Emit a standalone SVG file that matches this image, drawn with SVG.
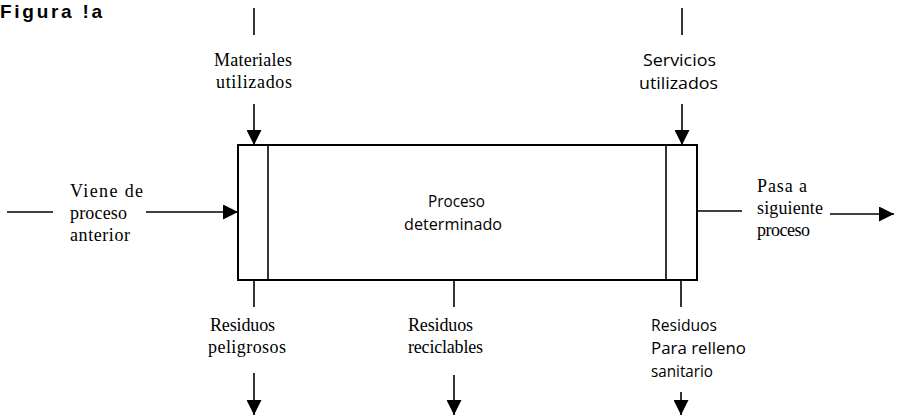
<svg xmlns="http://www.w3.org/2000/svg" width="898" height="417" viewBox="0 0 898 417">
<defs>
<marker id="ah" viewBox="0 0 10 10" refX="10" refY="5" markerWidth="15" markerHeight="15" markerUnits="userSpaceOnUse" orient="auto">
<path d="M0,0 L10,5 L0,10 Z" fill="#000"/>
</marker>
<style>
.s{font-family:"Liberation Serif","Times New Roman",serif;font-size:18px;fill:#000}
.n{font-family:"Open Sans","Noto Sans",sans-serif;font-size:16px;fill:#000}
.ln{stroke:#000;stroke-width:1.6;fill:none}
.ar{stroke:#000;stroke-width:1.6;fill:none;marker-end:url(#ah)}
.bx{stroke:#000;stroke-width:2;fill:#fff}
</style>
</defs>
<rect width="898" height="417" fill="#fff"/>
<text x="0" y="18" font-family="Liberation Sans, Arial, sans-serif" font-weight="bold" font-size="19" textLength="102" lengthAdjust="spacing">Figura !a</text>

<g id="proceso">
<rect class="bx" x="238" y="145" width="459" height="135"/>
<line class="ln" x1="268" y1="145" x2="268" y2="280"/>
<line class="ln" x1="666" y1="145" x2="666" y2="280"/>
<text class="n" x="428" y="207" textLength="57" lengthAdjust="spacingAndGlyphs">Proceso</text>
<text class="n" x="404" y="230" textLength="98" lengthAdjust="spacingAndGlyphs">determinado</text>
</g>

<g id="materiales">
<text class="s" x="214" y="66" textLength="78" lengthAdjust="spacing">Materiales</text>
<text class="s" x="216" y="88" textLength="76" lengthAdjust="spacing">utilizados</text>
</g>
<g id="servicios">
<text class="n" x="643" y="66" textLength="73" lengthAdjust="spacingAndGlyphs">Servicios</text>
<text class="n" x="639" y="89" textLength="79" lengthAdjust="spacingAndGlyphs">utilizados</text>
</g>
<g id="viene">
<text class="s" x="70" y="197" textLength="73" lengthAdjust="spacing">Viene de</text>
<text class="s" x="70" y="219" textLength="57" lengthAdjust="spacing">proceso</text>
<text class="s" x="70" y="241" textLength="60" lengthAdjust="spacing">anterior</text>
</g>
<g id="pasa">
<text class="s" x="757" y="192" textLength="50" lengthAdjust="spacing">Pasa a</text>
<text class="s" x="757" y="214" textLength="66" lengthAdjust="spacing">siguiente</text>
<text class="s" x="757" y="236" textLength="53" lengthAdjust="spacing">proceso</text>
</g>
<g id="peligrosos">
<text class="s" x="210" y="331" textLength="65" lengthAdjust="spacing">Residuos</text>
<text class="s" x="208" y="353" textLength="78" lengthAdjust="spacing">peligrosos</text>
</g>
<g id="reciclables">
<text class="s" x="408" y="331" textLength="65" lengthAdjust="spacing">Residuos</text>
<text class="s" x="408" y="353" textLength="75" lengthAdjust="spacing">reciclables</text>
</g>
<g id="relleno">
<text class="n" x="651" y="331" textLength="66" lengthAdjust="spacingAndGlyphs">Residuos</text>
<text class="n" x="651" y="354" textLength="95" lengthAdjust="spacingAndGlyphs">Para relleno</text>
<text class="n" x="651" y="377" textLength="62" lengthAdjust="spacingAndGlyphs">sanitario</text>
</g>

<g id="connectors">
<line class="ln" x1="254" y1="8" x2="254" y2="35"/>
<line class="ar" x1="254" y1="104" x2="254" y2="145"/>
<line class="ln" x1="682" y1="8" x2="682" y2="35"/>
<line class="ar" x1="682" y1="104" x2="682" y2="145"/>
<line class="ln" x1="7" y1="212" x2="53" y2="212"/>
<line class="ar" x1="146" y1="212" x2="238" y2="212"/>
<line class="ln" x1="697" y1="211" x2="742" y2="211"/>
<line class="ar" x1="830" y1="214" x2="894" y2="214"/>
<line class="ln" x1="254" y1="280" x2="254" y2="307"/>
<line class="ar" x1="254" y1="373" x2="254" y2="415"/>
<line class="ln" x1="454" y1="280" x2="454" y2="307"/>
<line class="ar" x1="454" y1="375" x2="454" y2="415"/>
<line class="ln" x1="681" y1="280" x2="681" y2="307"/>
<line class="ar" x1="681" y1="392" x2="681" y2="415"/>
</g>
</svg>
